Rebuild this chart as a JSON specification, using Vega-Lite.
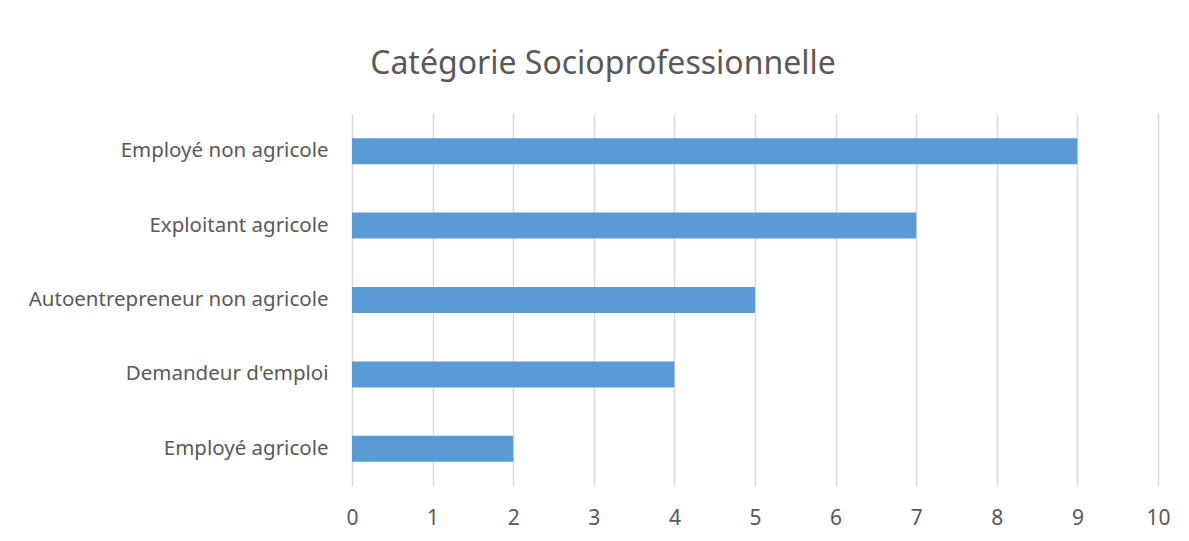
{
  "$schema": "https://vega.github.io/schema/vega-lite/v6.json",
  "width": 806,
  "height": 372,
  "autosize": {"type": "none"},
  "padding": {"left": 352, "top": 114, "right": 31, "bottom": 55},
  "background": "white",
  "title": {
    "text": "Catégorie Socioprofessionnelle",
    "font": "Noto Sans",
    "fontSize": 32,
    "fontWeight": "normal",
    "color": "#595959",
    "anchor": "middle",
    "dx": -152,
    "offset": 33
  },
  "data": {
    "values": [
      {"categorie": "Employé non agricole", "nombre": 9},
      {"categorie": "Exploitant agricole", "nombre": 7},
      {"categorie": "Autoentrepreneur non agricole", "nombre": 5},
      {"categorie": "Demandeur d'emploi", "nombre": 4},
      {"categorie": "Employé agricole", "nombre": 2}
    ]
  },
  "mark": {"type": "bar", "color": "#5b9bd5"},
  "encoding": {
    "y": {
      "field": "categorie",
      "type": "nominal",
      "sort": null,
      "scale": {"paddingInner": 0.65, "paddingOuter": 0.325},
      "axis": {
        "title": null,
        "domain": false,
        "ticks": false,
        "labelFont": "Noto Sans",
        "labelFontSize": 20.5,
        "labelColor": "#595959",
        "labelPadding": 24,
        "labelLimit": 400
      }
    },
    "x": {
      "field": "nombre",
      "type": "quantitative",
      "scale": {"domain": [0, 10], "nice": false},
      "axis": {
        "title": null,
        "values": [0, 1, 2, 3, 4, 5, 6, 7, 8, 9, 10],
        "domain": false,
        "ticks": false,
        "grid": true,
        "gridColor": "#d9d9d9",
        "gridWidth": 1.5,
        "labelFlush": false,
        "labelFont": "Noto Sans",
        "labelFontSize": 21,
        "labelColor": "#595959",
        "labelPadding": 21
      }
    }
  },
  "config": {"view": {"stroke": null}}
}
